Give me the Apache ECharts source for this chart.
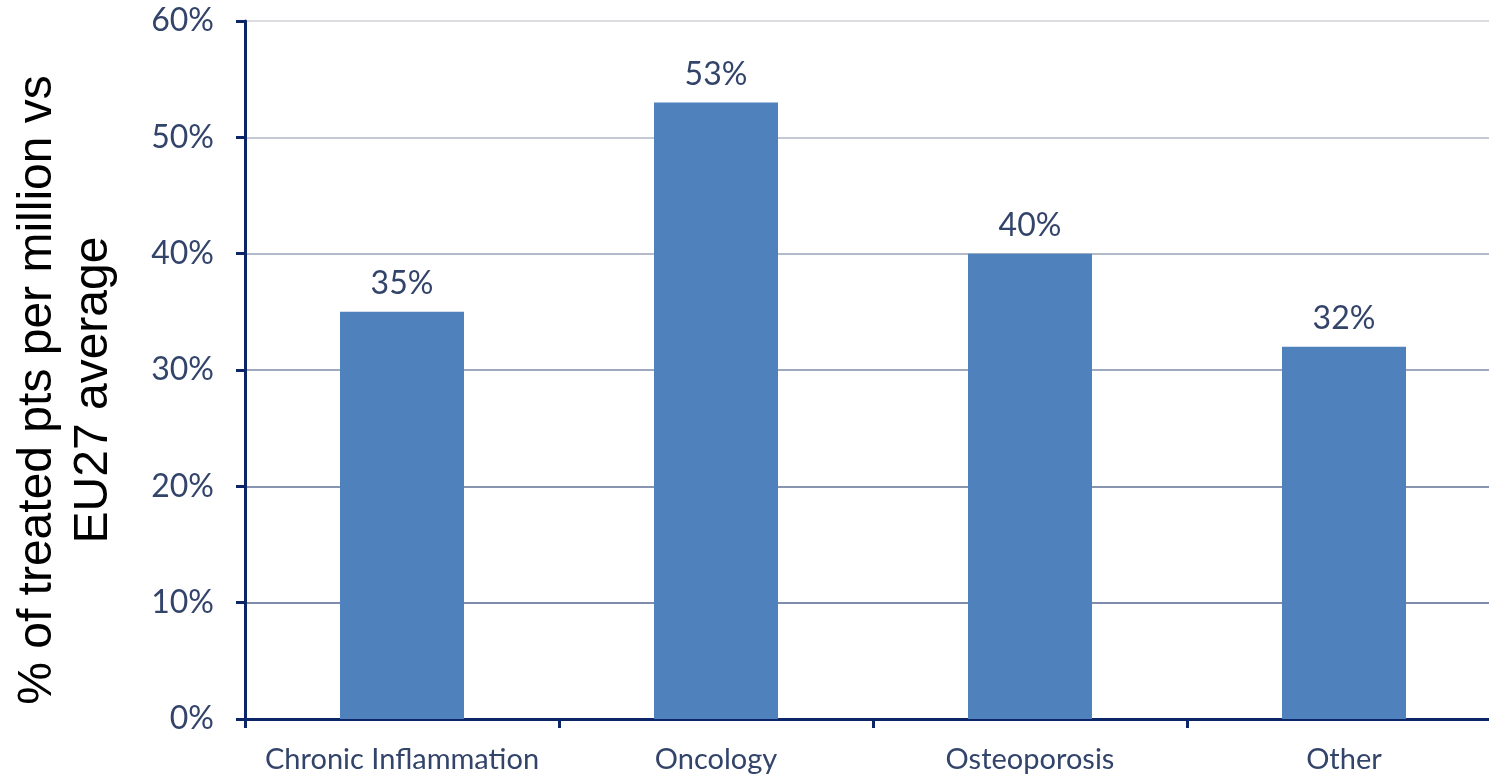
<!DOCTYPE html>
<html>
<head>
<meta charset="utf-8">
<script src="https://cdn.jsdelivr.net/npm/echarts@6/dist/echarts.min.js"></script>
<style>
  html, body { margin: 0; padding: 0; background: #ffffff; }
  #chart { width: 1489px; height: 775px; }
</style>
</head>
<body>
<div id="chart"></div>
<script>
// Share of treated patients per million, relative to the EU27 average
const categories = ['Chronic Inflammation', 'Oncology', 'Osteoporosis', 'Other'];
const shareValues = [35, 53, 40, 32];
const yTicks = [0, 10, 20, 30, 40, 50, 60];
const yTitleLines = ['% of treated pts per million vs', 'EU27 average'];

const navy = '#0b2566';
const labelColor = '#33446b';
const labelFont = 'Lato, "Open Sans", sans-serif';

const chart = echarts.init(document.getElementById('chart'), null, { renderer: 'canvas' });

chart.setOption({
  animation: false,
  backgroundColor: '#ffffff',
  grid: {
    left: 245, top: 21, width: 1256, bottom: 56,
    containLabel: false,
    outerBoundsMode: 'none'
  },
  xAxis: {
    type: 'category',
    data: categories,
    axisLine: { show: true, lineStyle: { color: navy, width: 3 } },
    axisTick: { show: true, length: 9, alignWithLabel: false, lineStyle: { color: navy, width: 3 } },
    axisLabel: { color: labelColor, fontFamily: labelFont, fontSize: 29, margin: 26, interval: 0 },
    splitLine: { show: false }
  },
  yAxis: {
    type: 'value',
    min: yTicks[0],
    max: yTicks[yTicks.length - 1],
    interval: 10,
    axisLine: { show: true, lineStyle: { color: navy, width: 3 } },
    axisTick: { show: true, length: 9, lineStyle: { color: navy, width: 3 } },
    axisLabel: {
      color: labelColor, fontFamily: labelFont, fontSize: 32, margin: 31,
      formatter: v => v + '%'
    },
    splitLine: {
      show: true,
      lineStyle: {
        width: 2,
        color: ['#ffffff', '#7f8cab', '#8895b1', '#9ea8be', '#b3bac9', '#c4c9d3', '#dadcdf']
      }
    }
  },
  series: [{
    type: 'bar',
    data: shareValues,
    barWidth: 124,
    itemStyle: { color: '#4f81bd' },
    label: {
      show: true,
      position: 'top',
      distance: 12,
      color: labelColor,
      fontFamily: labelFont,
      fontSize: 32,
      formatter: p => p.value + '%'
    }
  }],
  graphic: [{
    type: 'text',
    x: 66,
    y: 390,
    rotation: Math.PI / 2,
    style: {
      text: yTitleLines.join('\n'),
      font: '48px "Liberation Sans", Arial, sans-serif',
      lineHeight: 56,
      fill: '#000000',
      align: 'center',
      verticalAlign: 'middle'
    }
  }]
});
</script>
</body>
</html>
